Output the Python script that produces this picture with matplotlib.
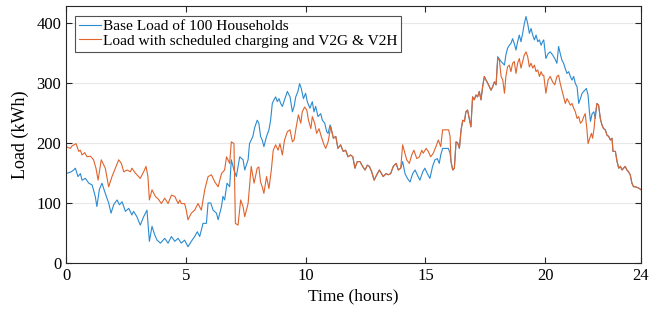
import matplotlib
matplotlib.use('Agg')
import matplotlib.pyplot as plt
import numpy as np

# load with scheduled charging and V2G & V2H (hours, kWh)
ev_hours = [0.0, 0.18, 0.25, 0.42, 0.53, 0.60, 0.67, 0.78, 0.88, 1.02, 1.15, 1.25, 1.34, 1.47,
            1.64, 1.78, 1.92, 2.06, 2.20, 2.31, 2.41, 2.55, 2.69, 2.75, 2.89, 3.10, 3.24, 3.34,
            3.42, 3.48, 3.59, 3.73, 3.86, 3.98, 4.12, 4.26, 4.40, 4.54, 4.68, 4.75, 4.81, 4.95,
            5.02, 5.09, 5.23, 5.37, 5.51, 5.65, 5.79, 5.93, 6.07, 6.21, 6.35, 6.49, 6.62, 6.70,
            6.83, 6.90, 7.01, 7.07, 7.18, 7.29, 7.39, 7.46, 7.60, 7.73, 7.85, 7.98, 8.05, 8.12,
            8.19, 8.26, 8.37, 8.47, 8.57, 8.65, 8.75, 8.85, 8.93, 9.03, 9.12, 9.24, 9.35, 9.45,
            9.52, 9.61, 9.70, 9.80, 9.86, 9.96, 10.05, 10.12, 10.22, 10.28, 10.38, 10.46, 10.56,
            10.66, 10.77, 10.84, 10.94, 11.05, 11.16, 11.26, 11.35, 11.46, 11.57, 11.67, 11.77,
            11.88, 11.97, 12.06, 12.16, 12.27, 12.38, 12.48, 12.58, 12.66, 12.76, 12.86, 12.97,
            13.08, 13.17, 13.24, 13.36, 13.45, 13.55, 13.66, 13.78, 13.87, 13.97, 14.05, 14.11,
            14.22, 14.33, 14.43, 14.52, 14.64, 14.75, 14.85, 14.91, 15.03, 15.12, 15.22, 15.33,
            15.44, 15.54, 15.64, 15.72, 15.82, 15.97, 16.03, 16.07, 16.14, 16.21, 16.28, 16.35,
            16.42, 16.49, 16.56, 16.63, 16.69, 16.76, 16.83, 16.90, 16.97, 17.04, 17.11, 17.18,
            17.25, 17.32, 17.39, 17.46, 17.53, 17.60, 17.67, 17.74, 17.81, 17.88, 17.95, 18.02,
            18.09, 18.16, 18.23, 18.30, 18.36, 18.43, 18.50, 18.57, 18.64, 18.71, 18.78, 18.85,
            18.92, 18.99, 19.06, 19.13, 19.20, 19.27, 19.34, 19.41, 19.48, 19.55, 19.62, 19.69,
            19.76, 19.83, 19.89, 19.94, 20.03, 20.12, 20.21, 20.31, 20.40, 20.49, 20.56, 20.63,
            20.70, 20.77, 20.84, 20.91, 20.98, 21.05, 21.12, 21.19, 21.26, 21.33, 21.40, 21.47,
            21.54, 21.61, 21.67, 21.74, 21.79, 21.86, 21.93, 21.98, 22.04, 22.09, 22.16, 22.23,
            22.30, 22.37, 22.44, 22.51, 22.58, 22.65, 22.72, 22.79, 22.83, 22.93, 23.00, 23.07,
            23.14, 23.21, 23.27, 23.34, 23.41, 23.48, 23.55, 23.62, 23.69, 23.76, 23.90, 24.0]
ev_load = [194, 191, 195, 199, 186, 188, 180, 184, 177, 178, 172, 158, 138, 172,
           158, 127, 144, 158, 172, 166, 152, 155, 152, 158, 150, 141, 152, 161,
           144, 105, 122, 111, 106, 99, 108, 99, 113, 111, 99, 105, 99, 99,
           88, 72, 83, 88, 99, 88, 122, 144, 147, 135, 127, 149, 155, 177,
           166, 202, 199, 66, 63, 105, 94, 77, 99, 161, 133, 158, 160, 135,
           127, 116, 144, 124, 155, 188, 197, 188, 199, 180, 205, 219, 222, 202,
           205, 227, 247, 233, 252, 260, 255, 238, 224, 244, 233, 216, 224,
           210, 197, 191, 202, 227, 208, 211, 191, 197, 186, 188, 177,
           180, 177, 158, 169, 169, 161, 155, 163, 161, 152, 138, 147,
           155, 149, 144, 149, 147, 149, 161, 166, 155, 158, 197, 188,
           172, 166, 180, 188, 174, 177, 188, 183, 191, 186, 177, 183,
           194, 205, 194, 222, 222, 222, 211, 169, 155, 158, 202, 200,
           191, 222, 238, 236, 252, 255, 241, 227, 277, 272, 280, 277,
           286, 272, 294, 311, 305, 300, 294, 288, 294, 302, 297, 341,
           338, 311, 305, 283, 311, 327, 330, 319, 333, 336, 316, 333,
           341, 325, 336, 347, 352, 344, 327, 333, 325, 330, 319, 322,
           311, 319, 313, 313, 283, 305, 311, 302, 297, 311, 313, 299,
           288, 277, 266, 274, 269, 263, 266, 258, 252, 241, 244, 233,
           236, 244, 249, 224, 199, 208, 216, 208, 224, 247, 266, 263,
           241, 230, 224, 222, 213, 211, 205, 208, 186, 186, 169, 158,
           161, 155, 158, 161, 155, 152, 147, 133, 127, 127, 125, 122]

# base load of 100 households, where it differs from the EV curve
base_hours_a = [0.0, 0.22, 0.32, 0.39, 0.50, 0.60, 0.67, 0.81, 0.95, 1.09, 1.22, 1.29, 1.39, 1.50,
                1.64, 1.78, 1.88, 1.99, 2.13, 2.23, 2.34, 2.48, 2.62, 2.75, 2.82, 2.96, 3.10,
                3.24, 3.38, 3.48, 3.59, 3.70, 3.80, 3.94, 4.12, 4.26, 4.40, 4.54, 4.68, 4.81,
                4.95, 5.09, 5.23, 5.37, 5.48, 5.58, 5.72, 5.86, 5.93, 6.04, 6.14, 6.28, 6.35,
                6.49, 6.55, 6.62, 6.72, 6.83, 6.90, 7.01, 7.11, 7.25, 7.39, 7.46, 7.60, 7.66,
                7.80, 7.87, 7.98, 8.05, 8.12, 8.19, 8.26, 8.37, 8.47, 8.54, 8.61, 8.68, 8.75,
                8.82, 8.89, 8.96, 9.03, 9.12, 9.24, 9.35, 9.45, 9.52, 9.59, 9.68, 9.75, 9.82,
                9.91, 10.00, 10.07, 10.18, 10.28, 10.35, 10.42, 10.52, 10.63, 10.70, 10.80,
                10.88, 10.94, 11.02]
base_load_a = [149, 152, 155, 158, 144, 149, 138, 141, 133, 130, 111, 94, 122, 133,
               116, 100, 83, 97, 105, 97, 102, 86, 91, 80, 86, 77, 63,
               77, 88, 36, 61, 47, 38, 33, 41, 33, 44, 36, 41, 33,
               38, 27, 36, 44, 52, 44, 66, 66, 100, 100, 88, 83, 72,
               94, 111, 105, 133, 127, 172, 155, 144, 177, 172, 155, 172, 199,
               211, 225, 238, 233, 211, 205, 194, 211, 222, 238, 266, 272, 277,
               269, 274, 266, 261, 272, 286, 277, 252, 261, 277, 286, 299, 291,
               274, 283, 269, 258, 269, 252, 261, 244, 249, 238, 233,
               219, 216, 230]
base_hours_b = [14.05, 14.15, 14.25, 14.36, 14.47, 14.57, 14.66, 14.77, 14.89, 14.98, 15.08,
                15.19, 15.30, 15.40, 15.50, 15.58, 15.64, 15.72, 15.82, 15.96, 16.03]
base_load_b = [169, 149, 141, 135, 149, 155, 147, 138, 152, 158, 149,
               141, 161, 172, 174, 166, 180, 191, 191, 191, 183]
base_hours_c = [18.02, 18.16, 18.30, 18.36, 18.43, 18.50, 18.57, 18.64, 18.71, 18.78, 18.85,
                18.92, 18.99, 19.06, 19.13, 19.20, 19.27, 19.34, 19.41, 19.48, 19.55, 19.62,
                19.69, 19.76, 19.83, 19.89, 19.94, 20.03, 20.12, 20.21, 20.31, 20.40, 20.49,
                20.56, 20.63, 20.70, 20.77, 20.84, 20.91, 20.98, 21.05, 21.12, 21.19, 21.26,
                21.33, 21.40, 21.47, 21.54, 21.65, 21.72, 21.79, 21.84, 21.89, 21.96, 22.03,
                22.09]
base_load_c = [344, 336, 330, 347, 358, 363, 366, 374, 366, 355, 369,
               380, 369, 383, 399, 411, 399, 383, 391, 380, 372, 380,
               369, 372, 363, 369, 372, 341, 349, 352, 347, 341, 333,
               361, 349, 338, 333, 324, 316, 319, 311, 305, 311, 299,
               294, 266, 274, 283, 288, 291, 280, 255, 236, 249, 252,
               241]

ev_hours = np.array(ev_hours)
ev_load = np.array(ev_load)

# where the two curves coincide the base load follows the EV curve
shared_1 = (ev_hours > 11.02) & (ev_hours < 14.05)
shared_2 = (ev_hours > 16.03) & (ev_hours < 18.02)
shared_3 = ev_hours > 22.09
base_hours = np.concatenate([base_hours_a, ev_hours[shared_1], base_hours_b,
                             ev_hours[shared_2], base_hours_c, ev_hours[shared_3]])
base_load = np.concatenate([base_load_a, ev_load[shared_1], base_load_b,
                            ev_load[shared_2], base_load_c, ev_load[shared_3]])

plt.rcParams['font.family'] = ['Liberation Serif', 'DejaVu Serif']

fig = plt.figure(figsize=(6.62, 3.16), dpi=100)
ax = fig.add_axes([0.0997, 0.168, 0.8686, 0.812])

ax.plot(base_hours, base_load, color='#2b8bd0', linewidth=0.8,
        label='Base Load of 100 Households')
ax.plot(ev_hours, ev_load, color='#e0632c', linewidth=0.8,
        label='Load with scheduled charging and V2G & V2H')

ax.set_xlim(0, 24)
ax.set_ylim(0, 428)
ax.set_xticks([0, 5, 10, 15, 20, 24])
ax.set_yticks([0, 100, 200, 300, 400])
ax.yaxis.grid(True, color='#e8e8e8', linewidth=0.8)
ax.set_axisbelow(True)
ax.tick_params(direction='in', top=True, right=True, labelsize=12, length=4,
               color='#262626', width=0.8)
for s in ax.spines.values():
    s.set_color('#262626')
    s.set_linewidth(0.8)

ax.set_xlabel('Time (hours)', fontsize=12.5, labelpad=3)
ax.set_ylabel('Load (kWh)', fontsize=13, labelpad=5)

leg = ax.legend(loc='upper left', fontsize=11.1, frameon=True, fancybox=False,
                handlelength=1.45, handletextpad=0.1, borderpad=0.25,
                labelspacing=0.05, borderaxespad=0.6)
leg.get_frame().set_edgecolor('#262626')
leg.get_frame().set_linewidth(0.8)

fig.savefig('out.png', dpi=100)
